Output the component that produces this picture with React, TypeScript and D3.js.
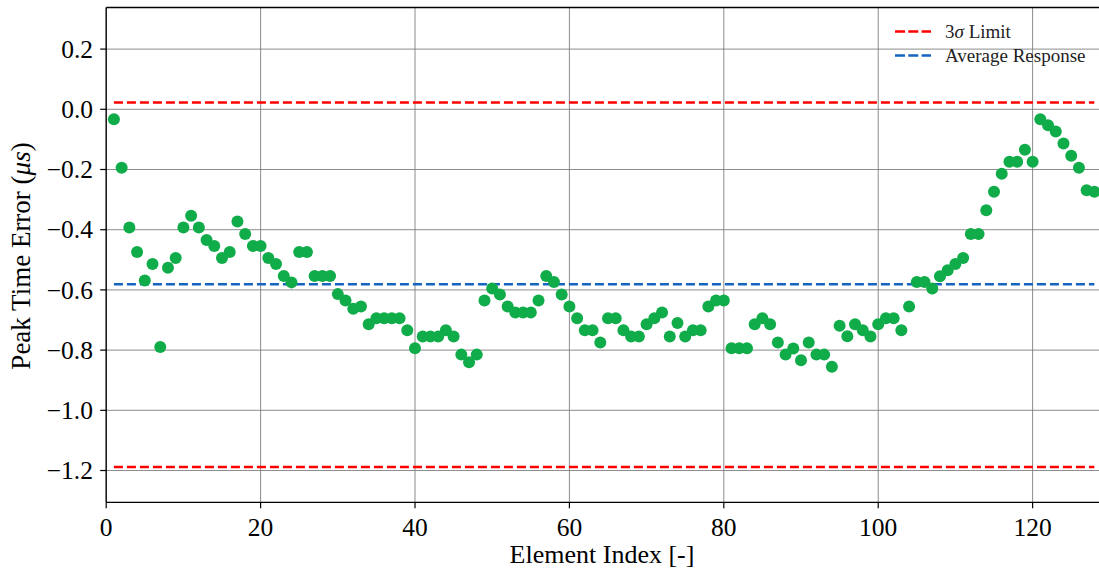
import React from "react";
import * as d3 from "d3";

const elementIndex: number[] = d3.range(1, 129);
const peakError: number[] = [
  -0.033, -0.194, -0.393, -0.474, -0.569, -0.514, -0.790, -0.526, -0.494, -0.393,
  -0.354, -0.393, -0.434, -0.454, -0.494, -0.474, -0.373, -0.414, -0.454, -0.454,
  -0.494, -0.514, -0.554, -0.575, -0.474, -0.474, -0.554, -0.554, -0.554, -0.614,
  -0.635, -0.663, -0.655, -0.714, -0.694, -0.694, -0.694, -0.694, -0.734, -0.794,
  -0.755, -0.755, -0.755, -0.734, -0.755, -0.815, -0.840, -0.815, -0.635, -0.595,
  -0.615, -0.655, -0.675, -0.675, -0.675, -0.635, -0.554, -0.574, -0.615, -0.655,
  -0.694, -0.734, -0.734, -0.775, -0.694, -0.694, -0.734, -0.755, -0.755, -0.714,
  -0.694, -0.675, -0.755, -0.710, -0.755, -0.734, -0.734, -0.655, -0.635, -0.635,
  -0.794, -0.794, -0.794, -0.714, -0.694, -0.714, -0.775, -0.815, -0.795, -0.834,
  -0.775, -0.815, -0.815, -0.855, -0.719, -0.754, -0.714, -0.734, -0.755, -0.714,
  -0.694, -0.694, -0.734, -0.655, -0.574, -0.574, -0.595, -0.555, -0.535, -0.514,
  -0.494, -0.414, -0.414, -0.335, -0.274, -0.214, -0.174, -0.174, -0.134, -0.174,
  -0.033, -0.053, -0.074, -0.114, -0.154, -0.194, -0.269, -0.274,
];
const upperLimit = 0.023;
const lowerLimit = -1.188;
const averageResponse = -0.581;
const limitSpan: [number, number] = [1, 128];
const xTicks: number[] = [0, 20, 40, 60, 80, 100, 120];
const yTicks: number[] = [-1.2, -1.0, -0.8, -0.6, -0.4, -0.2, 0.0, 0.2];
const legendLabels = ["3σ Limit", "Average Response"];

const W = 1099;
const H = 570;
const L = 106.2;
const R = 1099;
const T = 7.5;
const B = 502.3;
const FONT = "'Liberation Serif', 'Times New Roman', serif";

const fmt = (v: number) => {
  const s = v.toFixed(1);
  return v < 0 ? "\u2212" + s.slice(1) : s;
};

export default function App() {
  const x = d3.scaleLinear().domain([0, 128.6]).range([L, R]);
  const y = d3.scaleLinear().domain([-1.3056, 0.3382]).range([B, T]);
  const gridColor = "#7a7a7a";
  const dash = "9,4";

  return (
    <svg
      width={W}
      height={H}
      style={{ position: "absolute", left: 0, top: 0, background: "#fff" }}
      fontFamily={FONT}
    >
      <rect x={0} y={0} width={W} height={H} fill="#fff" />
      {xTicks.map((t) => (
        <line key={"gx" + t} x1={x(t)} x2={x(t)} y1={T} y2={B} stroke={gridColor} strokeWidth={1} opacity={0.85} />
      ))}
      {yTicks.map((t) => (
        <line key={"gy" + t} x1={L} x2={R} y1={y(t)} y2={y(t)} stroke={gridColor} strokeWidth={1} opacity={0.85} />
      ))}
      {[upperLimit, lowerLimit].map((v, i) => (
        <line key={"lim" + i} x1={x(limitSpan[0])} x2={x(limitSpan[1])} y1={y(v)} y2={y(v)} stroke="#ff0000" strokeWidth={2.5} strokeDasharray={dash} />
      ))}
      <line x1={x(limitSpan[0])} x2={x(limitSpan[1])} y1={y(averageResponse)} y2={y(averageResponse)} stroke="#1565c0" strokeWidth={2.5} strokeDasharray={dash} />
      {peakError.map((v, i) => (
        <circle key={"p" + i} cx={x(elementIndex[i])} cy={y(v)} r={6} fill="#10ac4a" />
      ))}
      <line x1={L} x2={L} y1={T} y2={B} stroke="#000" strokeWidth={1.3} />
      <line x1={L} x2={R} y1={B} y2={B} stroke="#000" strokeWidth={1.3} />
      <line x1={L} x2={R} y1={T} y2={T} stroke="#000" strokeWidth={1.3} />
      {xTicks.map((t) => (
        <g key={"tx" + t}>
          <line x1={x(t)} x2={x(t)} y1={B} y2={B + 6} stroke="#000" strokeWidth={1.2} />
          <text x={x(t)} y={535.5} textAnchor="middle" fontSize={25.5} fill="#000">{t}</text>
        </g>
      ))}
      {yTicks.map((t) => (
        <g key={"ty" + t}>
          <line x1={L - 6} x2={L} y1={y(t)} y2={y(t)} stroke="#000" strokeWidth={1.2} />
          <text x={93} y={y(t) + 8.6} textAnchor="end" fontSize={25.5} fill="#000">{fmt(t)}</text>
        </g>
      ))}
      <text x={602} y={563} textAnchor="middle" fontSize={26} fill="#000">Element Index [-]</text>
      <text transform="translate(30,256) rotate(-90)" textAnchor="middle" fontSize={27} fill="#000">
        Peak Time Error (<tspan fontStyle="italic">μs</tspan>)
      </text>
      <line x1={895} x2={931} y1={31.5} y2={31.5} stroke="#ff0000" strokeWidth={2.5} strokeDasharray="10,3.3" />
      <text x={945} y={37.5} fontSize={19} fill="#222">
        3<tspan fontStyle="italic">σ</tspan> Limit
      </text>
      <line x1={895} x2={931} y1={55.5} y2={55.5} stroke="#1565c0" strokeWidth={2.5} strokeDasharray="10,3.3" />
      <text x={945} y={61.5} fontSize={19} fill="#222">{legendLabels[1]}</text>
    </svg>
  );
}
